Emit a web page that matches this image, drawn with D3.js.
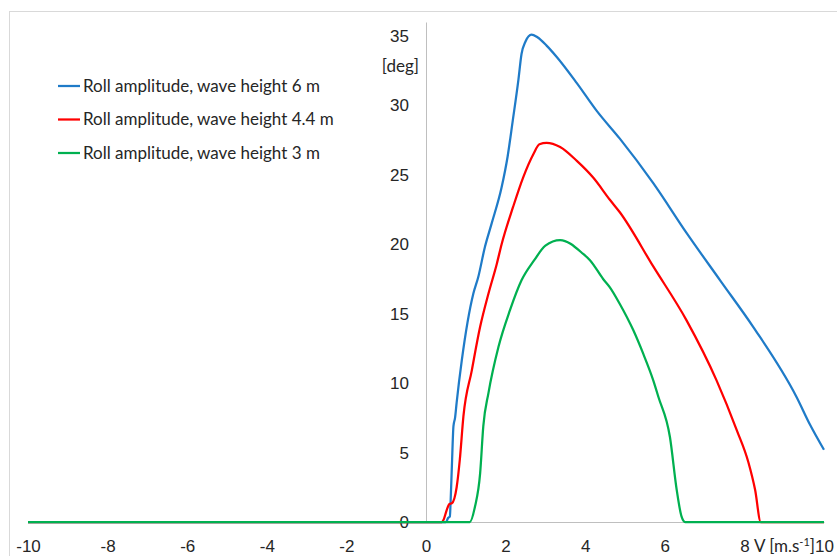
<!DOCTYPE html>
<html>
<head>
<meta charset="utf-8">
<script src="https://cdn.jsdelivr.net/npm/d3@7"></script>
<style>
  body { margin: 0; background: #fff; }
  svg { display: block; font-family: Lato, "Open Sans", sans-serif; }
</style>
</head>
<body>
<div id="chart"></div>
<script>
// speed [m/s] and roll amplitude [deg] for each wave height
const speed6 = [-10, 0.5, 0.56, 0.60, 0.62, 0.65, 0.69, 0.73, 0.77, 0.90, 1.19, 1.31, 1.48, 1.65, 1.90, 2.05, 2.18, 2.32, 2.40, 2.50, 2.65, 2.80, 3.03, 3.28, 3.79, 4.29, 4.87, 5.71, 6.55, 7.39, 8.22, 9.31, 9.65, 10.0];
const roll6 = [0, 0, 0.3, 0.4, 1.6, 4.0, 6.9, 7.5, 8.6, 11.65, 16.45, 17.6, 19.8, 21.5, 24.1, 26.3, 28.9, 31.8, 33.7, 34.6, 35.1, 34.9, 34.3, 33.5, 31.6, 29.6, 27.6, 24.4, 20.8, 17.4, 14.05, 9.0, 7.0, 5.2];

const speed44 = [-10, 0.40, 0.44, 0.52, 0.59, 0.65, 0.77, 0.85, 0.94, 1.15, 1.36, 1.57, 1.78, 1.90, 2.19, 2.44, 2.70, 2.85, 3.03, 3.37, 3.79, 4.20, 4.62, 4.87, 5.71, 6.55, 7.30, 7.81, 8.10, 8.27, 8.41, 10];
const roll44 = [0, 0, 0.15, 0.86, 1.3, 1.35, 2.5, 4.5, 7.6, 10.9, 14.05, 16.45, 18.6, 20.0, 22.7, 24.8, 26.5, 27.2, 27.3, 27.0, 26.0, 24.8, 23.2, 22.3, 18.4, 14.5, 10.2, 6.6, 4.3, 2.3, 0, 0];

const speed3 = [-10, 1.10, 1.23, 1.36, 1.44, 1.57, 1.82, 2.11, 2.40, 2.72, 3.00, 3.37, 3.95, 4.12, 4.45, 4.62, 4.87, 5.21, 5.46, 5.71, 5.84, 6.13, 6.30, 6.42, 6.51, 10];
const roll3 = [0, 0, 1.1, 3.5, 6.9, 9.3, 12.6, 15.25, 17.4, 18.85, 19.9, 20.3, 19.3, 18.85, 17.5, 16.9, 15.7, 13.8, 12.1, 10.2, 9.0, 6.1, 2.3, 0.4, 0, 0];

const seriesNames = ["Roll amplitude, wave height 6 m", "Roll amplitude, wave height 4.4 m", "Roll amplitude, wave height 3 m"];
const seriesColors = ["#1f7bc8", "#ff0000", "#00b050"];
const xTicks = [-10, -8, -6, -4, -2, 0, 2, 4, 6, 8, 10];
const yTicks = [0, 5, 10, 15, 20, 25, 30, 35];

const series = [
    { name: seriesNames[0], color: seriesColors[0], points: speed6.map((v, i) => ({ v, a: roll6[i] })) },
    { name: seriesNames[1], color: seriesColors[1], points: speed44.map((v, i) => ({ v, a: roll44[i] })) },
    { name: seriesNames[2], color: seriesColors[2], points: speed3.map((v, i) => ({ v, a: roll3[i] })) }
];

const WIDTH = 837, HEIGHT = 556;
const TEXT = "#262626", AXIS = "#bfbfbf";
const FONT = 17;

const svg = d3.select("#chart").append("svg")
    .attr("width", WIDTH)
    .attr("height", HEIGHT);

// chart frame
svg.append("rect")
    .attr("x", 9.5).attr("y", 11.5)
    .attr("width", 900).attr("height", 600)
    .attr("fill", "none")
    .attr("stroke", "#d9d9d9");

const x = d3.scaleLinear().domain([-10, 10]).range([28, 824]);
const y = d3.scaleLinear().domain([0, 36]).range([522, 22]);

// x axis, plain hyphen minus like the original
const xAxis = svg.append("g")
    .attr("transform", `translate(0,${y(0)})`)
    .call(d3.axisBottom(x).tickValues(xTicks).tickFormat(d => String(d))
        .tickSize(0).tickSizeOuter(0).tickPadding(18));
xAxis.select(".domain").attr("stroke", AXIS);
xAxis.selectAll("text")
    .attr("fill", TEXT)
    .attr("font-size", FONT);

// y axis sits at v = 0
const yAxis = svg.append("g")
    .attr("transform", `translate(${x(0)},0)`)
    .call(d3.axisLeft(y).tickValues(yTicks).tickFormat(d => String(d))
        .tickSize(0).tickSizeOuter(0).tickPadding(17));
yAxis.select(".domain").attr("stroke", AXIS);
yAxis.selectAll("text")
    .attr("fill", TEXT)
    .attr("font-size", FONT);

// axis titles
svg.append("text")
    .attr("x", x(0) - 7)
    .attr("y", 72)
    .attr("text-anchor", "end")
    .attr("font-size", FONT)
    .attr("fill", TEXT)
    .text("[deg]");

const vLabel = svg.append("text")
    .attr("x", 754)
    .attr("y", y(0) + 30)
    .attr("font-size", FONT)
    .attr("fill", TEXT);
vLabel.append("tspan").text("V [m.s");
vLabel.append("tspan").attr("font-size", 11).attr("dy", -6).text("-1");
vLabel.append("tspan").attr("dy", 6).text("]");

// curves
const line = d3.line()
    .x(d => x(d.v))
    .y(d => y(d.a))
    .curve(d3.curveMonotoneX);

svg.selectAll(".curve")
    .data(series)
    .enter().append("path")
    .attr("class", "curve")
    .attr("d", d => line(d.points))
    .attr("fill", "none")
    .attr("stroke", d => d.color)
    .attr("stroke-width", 2.25)
    .attr("stroke-linejoin", "round");

// legend
const legend = svg.selectAll(".legend")
    .data(series)
    .enter().append("g")
    .attr("class", "legend")
    .attr("transform", (d, i) => `translate(58,${86 + i * 33.5})`);

legend.append("line")
    .attr("x1", 0).attr("x2", 22)
    .attr("stroke", d => d.color)
    .attr("stroke-width", 2.25);

legend.append("text")
    .attr("x", 25)
    .attr("dy", "0.35em")
    .attr("font-size", FONT)
    .attr("fill", TEXT)
    .text(d => d.name);
</script>
</body>
</html>
